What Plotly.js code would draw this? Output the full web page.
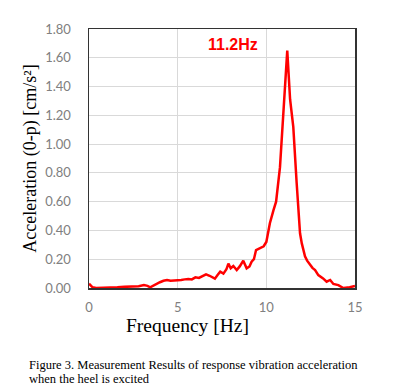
<!DOCTYPE html>
<html><head><meta charset="utf-8">
<script src="https://cdn.plot.ly/plotly-3.0.1.min.js"></script>
<style>html,body{margin:0;padding:0;background:#fff}#chart{width:400px;height:392px}</style>
</head><body><div id="chart"></div>
<script>
const freqHz = [0, 0.1, 0.2, 0.4, 0.8, 1.2, 1.6, 2.0, 2.4, 2.8, 3.1, 3.3, 3.45, 3.6, 3.8, 4.0, 4.2, 4.4, 4.6, 4.8, 5.0, 5.2, 5.4, 5.6, 5.8, 6.0, 6.2, 6.4, 6.6, 6.8, 7.0, 7.1, 7.25, 7.4, 7.58, 7.75, 7.86, 7.99, 8.14, 8.33, 8.5, 8.7, 8.89, 9.05, 9.17, 9.3, 9.42, 9.64, 9.85, 10.0, 10.2, 10.4, 10.55, 10.77, 10.96, 11.1, 11.18, 11.34, 11.52, 11.71, 11.9, 12.0, 12.18, 12.3, 12.46, 12.6, 12.75, 12.93, 13.2, 13.4, 13.6, 13.78, 14.06, 14.34, 14.7, 15.0];
const accel = [0.03, 0.02, 0.005, 0.0, 0.0, 0.005, 0.005, 0.008, 0.01, 0.012, 0.02, 0.015, 0.005, 0.015, 0.03, 0.04, 0.05, 0.056, 0.05, 0.052, 0.05, 0.056, 0.06, 0.063, 0.06, 0.074, 0.07, 0.08, 0.095, 0.085, 0.07, 0.065, 0.09, 0.113, 0.10, 0.13, 0.17, 0.137, 0.153, 0.125, 0.15, 0.19, 0.137, 0.15, 0.183, 0.2, 0.264, 0.276, 0.29, 0.32, 0.45, 0.54, 0.6, 0.84, 1.19, 1.5, 1.65, 1.31, 1.12, 0.73, 0.38, 0.31, 0.22, 0.19, 0.16, 0.14, 0.125, 0.09, 0.067, 0.044, 0.056, 0.028, 0.02, 0.0, 0.005, 0.014];
const yTicks = [0, 0.2, 0.4, 0.6, 0.8, 1.0, 1.2, 1.4, 1.6, 1.8];
const xTicks = [0, 5, 10, 15];
const peakLabel = "11.2Hz";
const xTitle = "Frequency [Hz]";
const yTitle = "Acceleration (0-p) [cm/s²]";
const captionLines = ["Figure 3. Measurement Results of response vibration acceleration", "when the heel is excited"];

const trace = {x: freqHz, y: accel, type: "scatter", mode: "lines",
  line: {color: "#ff0000", width: 2.5, shape: "linear"}, hoverinfo: "skip"};

const serif = "'Liberation Serif', 'Times New Roman', serif";
const layout = {
  width: 400, height: 392,
  margin: {l: 89, r: 45, t: 29, b: 104},
  paper_bgcolor: "#fff", plot_bgcolor: "#fff",
  showlegend: false,
  xaxis: {range: [0, 15], tickvals: xTicks, ticktext: xTicks.map(String),
    showgrid: true, gridcolor: "#d9d9d9", gridwidth: 1, zeroline: false,
    showline: true, linecolor: "#333", linewidth: 1.5, mirror: true,
    ticks: "", ticklen: 0, ticklabelstandoff: 7,
    tickfont: {family: "Lato, 'Liberation Sans', sans-serif", size: 13, color: "#808080"}},
  yaxis: {range: [0, 1.8], tickvals: yTicks, tickformat: ".2f",
    showgrid: true, gridcolor: "#d9d9d9", gridwidth: 1, zeroline: false,
    showline: true, linecolor: "#333", linewidth: 1.5, mirror: true,
    ticks: "", ticklen: 0, ticklabelstandoff: 14,
    tickfont: {family: "Lato, 'Liberation Sans', sans-serif", size: 13, color: "#808080"},
    title: {text: yTitle, standoff: 4,
      font: {family: serif, size: 18, color: "#000"}}},
  annotations: [
    {x: 8.1, y: 1.69, xref: "x", yref: "y", text: "<b>" + peakLabel + "</b>", showarrow: false,
      font: {family: "'Liberation Sans', Arial, sans-serif", size: 16, color: "#ff0000"}},
    {x: 187, y: 338, xref: "paper", yref: "paper", text: xTitle, showarrow: false,
      font: {family: serif, size: 19.5, color: "#000"}},
    {x: 27, y: 365, xref: "paper", yref: "paper", text: captionLines[0], showarrow: false,
      xanchor: "left", yanchor: "middle", font: {family: serif, size: 12.5, color: "#000"}},
    {x: 27, y: 379, xref: "paper", yref: "paper", text: captionLines[1], showarrow: false,
      xanchor: "left", yanchor: "middle", font: {family: serif, size: 12.5, color: "#000"}}
  ]
};
const plotW = 400 - 89 - 45, plotH = 392 - 29 - 104;
layout.annotations.forEach(a => {
  if (a.xref === "paper") {
    a.x = (a.x - 89) / plotW;
    a.y = (392 - 104 - a.y) / plotH;
  }
});
Plotly.newPlot("chart", [trace], layout, {staticPlot: true});
</script>
</body></html>
